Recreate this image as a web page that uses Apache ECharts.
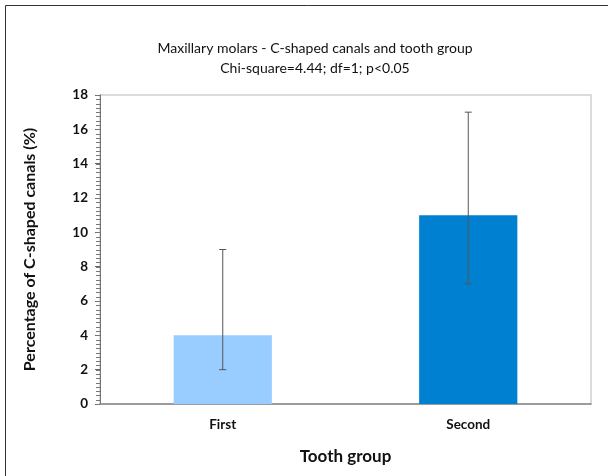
<!DOCTYPE html>
<html><head><meta charset="utf-8">
<script src="https://cdn.jsdelivr.net/npm/echarts@6/dist/echarts.min.js"></script>
<style>html,body{margin:0;padding:0;background:#fff}#c{width:608px;height:476px}</style>
</head><body><div id="c"></div>
<script>
var categories = ['First', 'Second'];
var values = [4, 11];
var errLow = [2, 7];
var errHigh = [9, 17];
var barColors = ['#99CCFF', '#0080D0'];
var titleLines = ['Maxillary molars - C-shaped canals and tooth group', 'Chi-square=4.44; df=1; p<0.05'];
var yTitle = 'Percentage of C-shaped canals (%)';
var xTitle = 'Tooth group';
var yMin = 0, yMax = 18, yMajor = 2, yMinor = 0.25;
var FONT = 'Lato';

var minorTickValues = [];
for (var k = 0; k * yMinor <= yMax - yMin + 1e-9; k++) minorTickValues.push([0, yMin + k * yMinor]);

var chart = echarts.init(document.getElementById('c'), null, {renderer: 'canvas'});
chart.setOption({
  animation: false,
  backgroundColor: '#fff',
  title: {
    text: titleLines.join('\n'),
    left: 310, top: 33, textAlign: 'center',
    textStyle: {fontFamily: FONT, fontSize: 14, fontWeight: 'normal', color: '#111', lineHeight: 20}
  },
  graphic: [{
    type: 'rect', shape: {x: 5.5, y: 5.5, width: 700, height: 600},
    style: {fill: 'none', stroke: '#333', lineWidth: 1}, silent: true
  }],
  grid: {left: 100, right: 17, top: 95, bottom: 72, show: true, borderColor: '#d0d0d0', borderWidth: 1.5},
  xAxis: {
    type: 'category', data: categories,
    axisLine: {lineStyle: {color: '#888', width: 1.5}},
    axisTick: {show: false},
    axisLabel: {fontFamily: FONT, fontSize: 13.5, fontWeight: 'bold', color: '#111', margin: 14},
    name: xTitle, nameLocation: 'middle', nameGap: 44,
    nameTextStyle: {fontFamily: FONT, fontSize: 17, fontWeight: 'bold', color: '#111'}
  },
  yAxis: {
    type: 'value', min: yMin, max: yMax, interval: yMajor,
    splitLine: {show: false},
    axisLine: {show: true, lineStyle: {color: '#777'}},
    axisTick: {show: true, inside: false, length: 5, lineStyle: {color: '#666'}},
    axisLabel: {fontFamily: FONT, fontSize: 13.5, fontWeight: 'bold', color: '#111', margin: 12},
    name: yTitle, nameLocation: 'middle', nameGap: 62, nameRotate: 90,
    nameTextStyle: {fontFamily: FONT, fontSize: 16, fontWeight: 'bold', color: '#111'}
  },
  series: [{
    type: 'bar', barWidth: '40%',
    data: values.map(function (v, i) { return {value: v, itemStyle: {color: barColors[i]}}; })
  }, {
    type: 'custom',
    data: categories.map(function (c, i) { return [i, errLow[i], errHigh[i]]; }),
    renderItem: function (params, api) {
      var lo = api.coord([api.value(0), api.value(1)]);
      var hi = api.coord([api.value(0), api.value(2)]);
      var w = 3.5;
      var st = {stroke: '#555', lineWidth: 1};
      return {type: 'group', children: [
        {type: 'line', shape: {x1: hi[0], y1: hi[1], x2: lo[0], y2: lo[1]}, style: st},
        {type: 'line', shape: {x1: hi[0] - w, y1: hi[1], x2: hi[0] + w, y2: hi[1]}, style: st},
        {type: 'line', shape: {x1: lo[0] - w, y1: lo[1], x2: lo[0] + w, y2: lo[1]}, style: st}
      ]};
    },
    z: 5
  }, {
    type: 'custom', silent: true, clip: false,
    encode: {x: 0, y: 1},
    data: minorTickValues,
    renderItem: function (params, api) {
      var x0 = params.coordSys.x;
      var p = api.coord([api.value(0), api.value(1)]);
      var y = Math.round(p[1]) + 0.5;
      return {type: 'line', shape: {x1: x0 - 4, y1: y, x2: x0, y2: y}, style: {stroke: '#777', lineWidth: 1}};
    },
    z: 6
  }]
});
</script></body></html>
